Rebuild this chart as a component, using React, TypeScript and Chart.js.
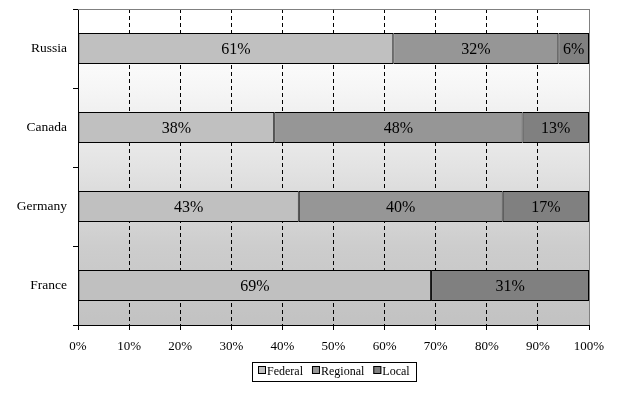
import React, { useEffect, useRef } from "react";
import { Chart, registerables } from "chart.js";

Chart.register(...registerables);

const categories = ["Russia", "Canada", "Germany", "France"];
const seriesNames = ["Federal", "Regional", "Local"];
const federal = [61.7, 38.4, 43.2, 69.1];
const regional: (number | null)[] = [32.3, 48.6, 39.9, null];
const local = [6.0, 13.0, 16.9, 30.9];
const federalLabels = ["61%", "38%", "43%", "69%"];
const regionalLabels = ["32%", "48%", "40%", ""];
const localLabels = ["6%", "13%", "17%", "31%"];
const xTickValues = [0, 10, 20, 30, 40, 50, 60, 70, 80, 90, 100];

const SERIF = "'Liberation Serif', 'Times New Roman', serif";
const colors = ["#c0c0c0", "#969696", "#808080"];
const valueLabels = [federalLabels, regionalLabels, localLabels];

const bgPlugin = {
  id: "plotBg",
  beforeDraw(chart: any) {
    const { ctx, chartArea: a } = chart;
    const g = ctx.createLinearGradient(0, a.top, 0, a.bottom);
    g.addColorStop(0, "#ffffff");
    g.addColorStop(0.1, "#ffffff");
    g.addColorStop(0.25, "#f6f6f6");
    g.addColorStop(0.5, "#e3e3e3");
    g.addColorStop(0.75, "#cdcdcd");
    g.addColorStop(1, "#c2c2c2");
    ctx.save();
    ctx.fillStyle = g;
    ctx.fillRect(a.left, a.top, a.right - a.left, a.bottom - a.top);
    ctx.restore();
  },
  beforeDatasetsDraw(chart: any) {
    const { ctx, chartArea: a } = chart;
    ctx.save();
    ctx.strokeStyle = "#808080";
    ctx.lineWidth = 1;
    ctx.setLineDash([]);
    ctx.beginPath();
    ctx.moveTo(a.left, a.top + 0.5);
    ctx.lineTo(a.right + 0.5, a.top + 0.5);
    ctx.lineTo(a.right + 0.5, a.bottom);
    ctx.stroke();
    ctx.restore();
  },
};

const labelPlugin = {
  id: "barLabels",
  afterDatasetsDraw(chart: any) {
    const { ctx } = chart;
    ctx.save();
    ctx.font = `16px ${SERIF}`;
    ctx.fillStyle = "#000";
    ctx.textAlign = "center";
    ctx.textBaseline = "middle";
    chart.data.datasets.forEach((_ds: any, i: number) => {
      const meta = chart.getDatasetMeta(i);
      meta.data.forEach((el: any, j: number) => {
        const txt = valueLabels[i][j];
        if (!txt) return;
        const { x, base, y } = el.getProps(["x", "base", "y"], true);
        ctx.fillText(txt, (x + base) / 2, y + 1);
      });
    });
    ctx.restore();
  },
};

const legendPlugin = {
  id: "boxLegend",
  afterDraw(chart: any) {
    const { ctx, chartArea: a } = chart;
    const ds = chart.data.datasets;
    ctx.save();
    ctx.font = `12px ${SERIF}`;
    const sw = 8;
    const gapText = 1;
    const gapItem = 9;
    const pad = 6;
    const widths = ds.map((d: any) => sw + gapText + ctx.measureText(d.label).width);
    const inner = widths.reduce((s: number, w: number) => s + w, 0) + gapItem * (ds.length - 1);
    const boxW = inner + pad * 2;
    const boxH = 19;
    const cx = (a.left + a.right) / 2;
    const left = Math.round(cx - boxW / 2);
    const top = Math.round(a.bottom + 37);
    ctx.strokeStyle = "#000";
    ctx.lineWidth = 1;
    ctx.strokeRect(left + 0.5, top + 0.5, Math.round(boxW), boxH);
    let x = left + pad;
    ctx.textBaseline = "middle";
    ctx.textAlign = "left";
    ds.forEach((d: any, i: number) => {
      ctx.fillStyle = d.backgroundColor;
      ctx.fillRect(x, top + 4, sw, sw);
      ctx.strokeStyle = "#000";
      ctx.strokeRect(x + 0.5, top + 4.5, sw - 1, sw - 1);
      ctx.fillStyle = "#000";
      ctx.fillText(d.label, x + sw + gapText, top + 9.5);
      x += widths[i] + gapItem;
    });
    ctx.restore();
  },
};

export default function App() {
  const ref = useRef<HTMLCanvasElement | null>(null);
  useEffect(() => {
    document.body.style.margin = "0";
    if (!ref.current) return;
    const series = [federal, regional, local];
    const chart = new Chart(ref.current, {
      type: "bar",
      data: {
        labels: categories,
        datasets: series.map((data, i) => ({
          label: seriesNames[i],
          data: data as any,
          backgroundColor: colors[i],
          borderColor: "#000",
          borderWidth: 1,
          borderSkipped: false,
          barPercentage: 0.392,
          categoryPercentage: 1,
        })),
      },
      options: {
        indexAxis: "y",
        responsive: false,
        animation: false,
        devicePixelRatio: 1,
        layout: { padding: { top: 9, right: 29, bottom: 38, left: 0 } },
        plugins: {
          legend: { display: false },
          tooltip: { enabled: false },
        },
        scales: {
          x: {
            type: "linear",
            stacked: true,
            min: 0,
            max: 100,
            afterFit: (s: any) => {
              s.height = 30;
              s.paddingLeft = 0;
              s.paddingRight = 0;
            },
            afterBuildTicks: (s: any) => {
              s.ticks = xTickValues.map((v) => ({ value: v }));
            },
            ticks: {
              callback: (v: any) => `${v}%`,
              color: "#000",
              font: { family: SERIF, size: 13 },
              padding: 9,
              maxRotation: 0,
              autoSkip: false,
            },
            grid: {
              color: (c: any) => (c.index === 10 ? "#808080" : "#000"),
              tickBorderDash: [],
              tickColor: "#000",
              tickLength: 5,
              lineWidth: 1,
            } as any,
            border: { color: "#000", width: 1, dash: [4, 3] },
          },
          y: {
            type: "category",
            stacked: true,
            afterFit: (s: any) => {
              s.width = 78;
              s.paddingTop = 0;
              s.paddingBottom = 0;
            },
            ticks: {
              color: "#000",
              font: { family: SERIF, size: 13.5 },
              padding: 6,
            },
            grid: {
              drawOnChartArea: false,
              offset: true,
              color: "#000",
              tickLength: 5,
            },
            border: { color: "#000", width: 1 },
          },
        },
      } as any,
      plugins: [bgPlugin, labelPlugin, legendPlugin],
    });
    return () => chart.destroy();
  }, []);
  return (
    <div style={{ width: 618, height: 393 }}>
      <canvas ref={ref} width={618} height={393} />
    </div>
  );
}
